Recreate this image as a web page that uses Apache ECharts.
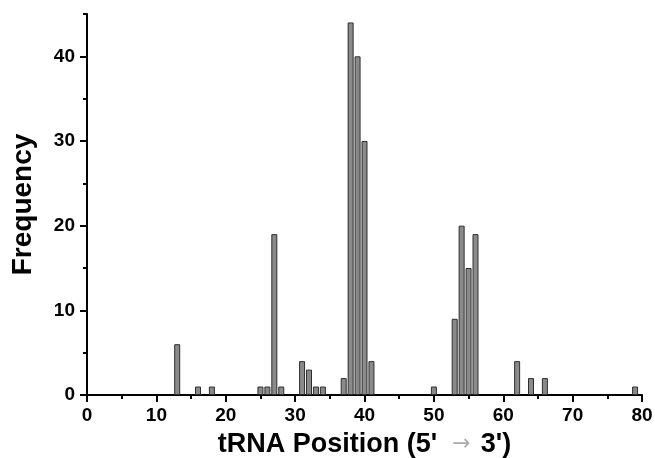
<!DOCTYPE html>
<html>
<head>
<meta charset="utf-8">
<script src="https://cdn.jsdelivr.net/npm/echarts@6/dist/echarts.min.js"></script>
<style>
  html, body { margin: 0; padding: 0; background: #ffffff; }
  #chart { width: 655px; height: 458px; }
</style>
</head>
<body>
<div id="chart"></div>
<script>
// Nucleotide positions along the tRNA (5' -> 3') and how often each was observed
const positions   = [13, 16, 18, 25, 26, 27, 28, 31, 32, 33, 34, 37, 38, 39, 40, 41, 50, 53, 54, 55, 56, 62, 64, 66, 79];
const frequencies = [ 6,  1,  1,  1,  1, 19,  1,  4,  3,  1,  1,  2, 44, 40, 30,  4,  1,  9, 20, 15, 19,  4,  2,  2,  1];

// Labelled tick values on the frequency axis
const yMajorTicks = [0, 10, 20, 30, 40];

const FONT = '"Liberation Sans", Arial, Helvetica, sans-serif';

const barData = positions.map((p, i) => [p, frequencies[i]]);

const chart = echarts.init(document.getElementById('chart'), null, { renderer: 'canvas' });

const axisLineStyle = { color: '#000', width: 2 };

chart.setOption({
  animation: false,
  backgroundColor: '#ffffff',
  grid: { left: 87, right: 13, top: 14, bottom: 63, containLabel: false, outerBoundsMode: 'none' },
  xAxis: {
    type: 'value',
    min: 0,
    max: 80,
    interval: 10,
    name: '{t|tRNA Position (5\'}{a|→}{t|3\')}',
    nameLocation: 'middle',
    nameGap: 36,
    nameTextStyle: {
      rich: {
        t: { fontFamily: FONT, fontWeight: 'bold', fontSize: 27, color: '#000' },
        a: { fontFamily: '"DejaVu Sans", sans-serif', fontWeight: 'normal', fontSize: 22, color: '#ababab', padding: [0, 10, 0, 15] }
      }
    },
    axisLine: { show: true, onZero: false, lineStyle: axisLineStyle },
    axisTick: { show: true, inside: false, length: 7, lineStyle: axisLineStyle },
    minorTick: { show: true, splitNumber: 2, length: 4, lineStyle: { color: '#000', width: 2 } },
    splitLine: { show: false },
    minorSplitLine: { show: false },
    axisLabel: { fontFamily: FONT, fontWeight: 'bold', fontSize: 19, color: '#000', margin: 11 }
  },
  yAxis: [
    {
      type: 'value',
      position: 'left',
      min: 0,
      max: 45,
      interval: 5,
      name: 'Frequency',
      nameLocation: 'middle',
      nameGap: 50,
      nameTextStyle: { fontFamily: FONT, fontWeight: 'bold', fontSize: 28, color: '#000' },
      axisLine: { show: true, onZero: false, lineStyle: axisLineStyle },
      axisTick: { show: true, inside: false, length: 7, customValues: yMajorTicks, lineStyle: axisLineStyle },
      splitLine: { show: false },
      axisLabel: { customValues: yMajorTicks, fontFamily: FONT, fontWeight: 'bold', fontSize: 19, color: '#000', margin: 12 }
    },
    {
      // companion axis carrying the short ticks at every 5
      type: 'value',
      position: 'left',
      min: 0,
      max: 45,
      interval: 5,
      axisLine: { show: false },
      axisTick: { show: true, inside: false, length: 4, lineStyle: axisLineStyle },
      splitLine: { show: false },
      axisLabel: { show: false }
    }
  ],
  series: [{
    type: 'bar',
    xAxisIndex: 0,
    yAxisIndex: 0,
    data: barData,
    barWidth: 6,
    itemStyle: { color: '#8a8a8a', borderColor: '#2e2e2e', borderWidth: 1 },
    z: 1
  }]
});
</script>
</body>
</html>
